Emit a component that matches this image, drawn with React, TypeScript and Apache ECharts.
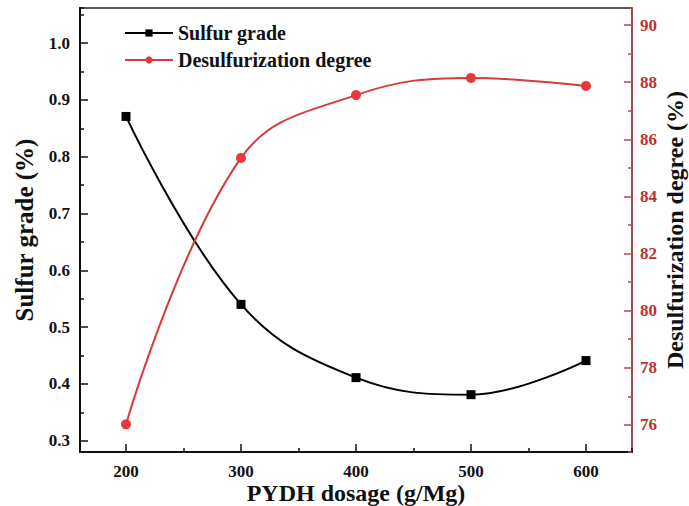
import React, { useEffect, useRef } from "react";
import * as echarts from "echarts";

const dosage = [200, 300, 400, 500, 600];
const sulfurGrade = [0.871, 0.54, 0.411, 0.381, 0.441];
const desulfurization = [76.02, 85.35, 87.55, 88.15, 87.87];

const FONT = "'Liberation Serif', 'Times New Roman', serif";
const RED = "#e8383d";
const AXIS_RED = "#b8484a";
const LABEL_RED = "#c0302f";

export default function App() {
  const ref = useRef<HTMLDivElement>(null);
  useEffect(() => {
    if (!ref.current) return;
    const chart = echarts.init(ref.current, null, { renderer: "svg" });
    chart.setOption({
      animation: false,
      backgroundColor: "#fff",
      grid: {
        left: 80,
        right: 57,
        top: 8,
        bottom: 54,
        containLabel: false,
        outerBoundsMode: "none",
        show: true,
        borderColor: "#222",
        borderWidth: 1.5,
        backgroundColor: "transparent",
      },
      legend: {
        orient: "vertical",
        left: 124,
        top: 23,
        padding: 0,
        itemWidth: 48,
        itemHeight: 9,
        itemGap: 7,
        textStyle: {
          fontFamily: FONT,
          fontWeight: "bold",
          fontSize: 20,
          lineHeight: 20,
          color: "#111",
        },
        data: ["Sulfur grade", "Desulfurization degree"],
      },
      xAxis: [
        {
          type: "value",
          min: 160,
          max: 640,
          minInterval: 100,
          maxInterval: 100,
          position: "bottom",
          name: "PYDH dosage (g/Mg)",
          nameLocation: "middle",
          nameGap: 29,
          nameMoveOverlap: false,
          nameTextStyle: { fontFamily: FONT, fontWeight: "bold", fontSize: 24, color: "#111" },
          axisLine: { lineStyle: { color: "#111", width: 2 } },
          axisTick: { inside: true, length: 8, lineStyle: { color: "#111", width: 1.5 } },
          axisLabel: {
            showMinLabel: false,
            showMaxLabel: false,
            margin: 11,
            fontFamily: FONT,
            fontWeight: "bold",
            fontSize: 17,
            color: "#111",
          },
          splitLine: { show: false },
        },
        {
          type: "value",
          min: 110,
          max: 590,
          minInterval: 100,
          maxInterval: 100,
          position: "bottom",
          axisLine: { show: false },
          axisTick: { inside: true, length: 4, lineStyle: { color: "#111", width: 1.5 } },
          axisLabel: { show: false },
          splitLine: { show: false },
        },
      ],
      yAxis: [
        {
          type: "value",
          min: 0.28,
          max: 1.062,
          minInterval: 0.1,
          maxInterval: 0.1,
          position: "left",
          name: "Sulfur grade (%)",
          nameLocation: "middle",
          nameGap: 43,
          nameMoveOverlap: false,
          nameTextStyle: { fontFamily: FONT, fontWeight: "bold", fontSize: 25, color: "#111" },
          axisLine: { show: true, lineStyle: { color: "#111", width: 2 } },
          axisTick: { show: true, inside: true, length: 8, lineStyle: { color: "#111", width: 1.5 } },
          axisLabel: {
            showMinLabel: false,
            showMaxLabel: false,
            margin: 10,
            fontFamily: FONT,
            fontWeight: "bold",
            fontSize: 17,
            color: "#111",
            formatter: (v: number) => v.toFixed(1),
          },
          splitLine: { show: false },
        },
        {
          type: "value",
          min: 75.05,
          max: 90.6,
          minInterval: 2,
          maxInterval: 2,
          position: "right",
          name: "Desulfurization degree (%)",
          nameLocation: "middle",
          nameGap: 31,
          nameRotate: 90,
          nameMoveOverlap: false,
          nameTextStyle: { fontFamily: FONT, fontWeight: "bold", fontSize: 24, color: "#111" },
          axisLine: { show: true, lineStyle: { color: AXIS_RED, width: 1.5 } },
          axisTick: { show: true, inside: true, length: 8, lineStyle: { color: AXIS_RED, width: 1.5 } },
          axisLabel: {
            showMinLabel: false,
            showMaxLabel: false,
            margin: 8,
            fontFamily: FONT,
            fontWeight: "bold",
            fontSize: 17,
            color: LABEL_RED,
          },
          splitLine: { show: false },
        },
        {
          type: "value",
          min: 0.23,
          max: 1.012,
          minInterval: 0.1,
          maxInterval: 0.1,
          position: "left",
          axisLine: { show: false },
          axisTick: { show: true, inside: true, length: 4, lineStyle: { color: "#111", width: 1.5 } },
          axisLabel: { show: false },
          splitLine: { show: false },
        },
        {
          type: "value",
          min: 74.05,
          max: 89.6,
          minInterval: 2,
          maxInterval: 2,
          position: "right",
          axisLine: { show: false },
          axisTick: { show: true, inside: true, length: 4, lineStyle: { color: AXIS_RED, width: 1.5 } },
          axisLabel: { show: false },
          splitLine: { show: false },
        },
      ],
      series: [
        {
          name: "Sulfur grade",
          type: "line",
          xAxisIndex: 0,
          yAxisIndex: 0,
          smooth: 0.4,
          symbol: "rect",
          symbolSize: 9,
          itemStyle: { color: "#000" },
          lineStyle: { color: "#000", width: 2 },
          data: dosage.map((d, i) => [d, sulfurGrade[i]]),
          z: 3,
        },
        {
          name: "Desulfurization degree",
          type: "line",
          xAxisIndex: 0,
          yAxisIndex: 1,
          smooth: 0.4,
          symbol: "circle",
          symbolSize: 10,
          itemStyle: { color: RED },
          lineStyle: { color: "#d63a3a", width: 2 },
          data: dosage.map((d, i) => [d, desulfurization[i]]),
          z: 3,
        },
      ],
    });
    return () => chart.dispose();
  }, []);
  return <div ref={ref} style={{ width: 689, height: 506, position: "absolute", left: 0, top: 0 }} />;
}
